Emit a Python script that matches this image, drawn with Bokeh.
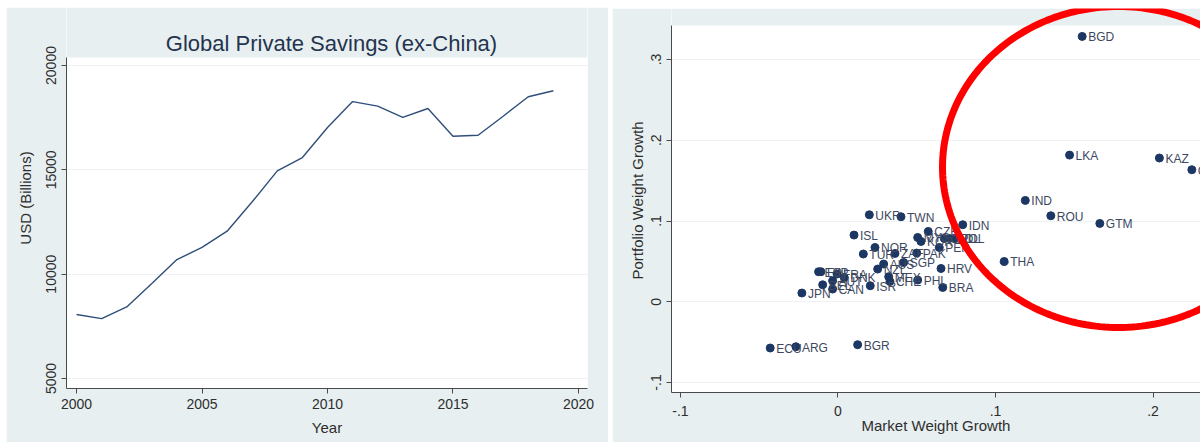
import numpy as np
from bokeh.plotting import figure
from bokeh.models import (Range1d, FixedTicker, PolyAnnotation, BoxAnnotation, Label,
                          CustomJSTickFormatter, ColumnDataSource, GlobalInlineStyleSheet)
from bokeh.layouts import row
from bokeh.core.properties import value
from bokeh.embed import file_html
from bokeh.resources import INLINE

# ---------------- data ----------------
years = list(range(2000, 2020))
savings = [8070, 7870, 8430, 9550, 10700, 11280, 12060, 13470, 14950, 15590,
           17030, 18270, 18050, 17510, 17940, 16610, 16660, 17570, 18500, 18790]

left_x_ticks = [2000, 2005, 2010, 2015, 2020]
left_y_ticks = [5000, 10000, 15000, 20000]

countries = ["BGD", "LKA", "KAZ", "GEO", "IND", "ROU", "GTM", "THA", "IDN", "UKR",
             "TWN", "ISL", "CZE", "MYS", "KOR", "CHL", "COL", "POL", "PER", "NOR",
             "TUR", "ZAF", "PAK", "AUS", "NZL", "SGP", "HRV", "MEX", "CHE", "PHL",
             "BRA", "ISR", "DNK", "FRA", "ESP", "FIN", "CAN", "AUT", "BEL", "JPN",
             "ECU", "ARG", "BGR"]
market_growth = [0.155, 0.147, 0.204, 0.2246, 0.1189, 0.1351, 0.1662, 0.1055, 0.0792, 0.0199,
                 0.0400, 0.0102, 0.0573, 0.0506, 0.0527, 0.0675, 0.0707, 0.0739, 0.0643, 0.0235,
                 0.0161, 0.0362, 0.0500, 0.0290, 0.0252, 0.0417, 0.0654, 0.0322, 0.0330, 0.0506,
                 0.0665, 0.0205, 0.0040, -0.0006, -0.0123, -0.0108, -0.0034, -0.0034, -0.0097, -0.0229,
                 -0.0430, -0.0267, 0.0125]
portfolio_growth = [0.3286, 0.1816, 0.1780, 0.1635, 0.1255, 0.1065, 0.0970, 0.0499, 0.0954, 0.1077,
                    0.1053, 0.0826, 0.0871, 0.0796, 0.0747, 0.0784, 0.0784, 0.0784, 0.0672, 0.0672,
                    0.0591, 0.0598, 0.0603, 0.0467, 0.0405, 0.0487, 0.0412, 0.0310, 0.0251, 0.0269,
                    0.0177, 0.0198, 0.0301, 0.0343, 0.0372, 0.0372, 0.0157, 0.0260, 0.0210, 0.0108,
                    -0.0573, -0.0557, -0.0532]

right_x_ticks = [-0.1, 0, 0.1, 0.2]
right_y_ticks = [-0.1, 0, 0.1, 0.2, 0.3]

# ---------------- styles ----------------
FONT = "Liberation Sans"
PANEL_BG = "#e8eff1"
AXIS_COL = "#4a4a4a"
TEXT_COL = "#2e2e2e"
GRID_COL = "#edf2f3"


def style_axes(p, tick_size="14px", label_size="15px"):
    for ax in (p.xaxis[0], p.yaxis[0]):
        ax.axis_line_color = AXIS_COL
        ax.major_tick_line_color = AXIS_COL
        ax.major_tick_out = 5
        ax.major_tick_in = 0
        ax.minor_tick_line_color = None
        ax.major_label_text_font = FONT
        ax.major_label_text_font_size = tick_size
        ax.major_label_text_color = TEXT_COL
        ax.axis_label_text_font = FONT
        ax.axis_label_text_font_size = label_size
        ax.axis_label_text_font_style = "normal"
        ax.axis_label_text_color = TEXT_COL
        ax.major_label_standoff = 5
        ax.axis_label_standoff = 4
    p.yaxis[0].major_label_orientation = "vertical"
    p.xgrid.visible = False
    p.ygrid.grid_line_color = GRID_COL
    p.ygrid.grid_line_width = 1


# ---------------- left panel ----------------
left_plot_top = 20383
p1 = figure(width=602, height=435, title=None,
            x_range=Range1d(1999.6, 2020.36), y_range=Range1d(4521, 22779),
            output_backend="svg", toolbar_location=None,
            min_border_left=60, min_border_right=21, min_border_top=0, min_border_bottom=54,
            background_fill_color="white", border_fill_color=PANEL_BG,
            outline_line_color=None)
p1.margin = (7, 0, 0, 6)
p1.add_layout(BoxAnnotation(bottom=left_plot_top, fill_color=PANEL_BG, fill_alpha=1,
                            line_color=None, level="underlay"))
p1.line(years, savings, line_color="#2f4f7a", line_width=1.4)
p1.xaxis.ticker = FixedTicker(ticks=left_x_ticks)
p1.yaxis.ticker = FixedTicker(ticks=left_y_ticks)
p1.xaxis.axis_label = "Year"
p1.yaxis.axis_label = "USD (Billions)"
style_axes(p1)
p1.yaxis[0].bounds = (4521, left_plot_top)
p1.yaxis[0].axis_label_standoff = 10
p1.xaxis[0].axis_label_standoff = 7
p1.add_layout(Label(x=325, y=36, x_units="canvas", y_units="canvas",
                    text="Global Private Savings (ex-China)", text_align="center",
                    text_baseline="middle", text_font=FONT, text_font_size="22px",
                    text_color="#24344f"))

# ---------------- right panel ----------------
plot_top = 0.3421
p2 = figure(width=588, height=438, title=None,
            x_range=Range1d(-0.10565, 0.2301), y_range=Range1d(-0.1124, 0.3632),
            output_backend="svg", toolbar_location=None,
            min_border_left=59, min_border_right=0, min_border_top=0, min_border_bottom=54,
            background_fill_color="white", border_fill_color=PANEL_BG,
            outline_line_color=None)
p2.margin = (8, 0, 0, 4)
# panel-coloured strip above the plot region (lets the highlight ellipse reach above it)
p2.add_layout(BoxAnnotation(bottom=plot_top, fill_color=PANEL_BG, fill_alpha=1,
                            line_color=None, level="underlay"))
src = ColumnDataSource(dict(x=market_growth, y=portfolio_growth, name=countries))
p2.scatter("x", "y", source=src, size=8, fill_color="#1c3763", line_color="#1c3763")
p2.text("x", "y", text="name", source=src, x_offset=6, y_offset=1,
        text_baseline="middle", text_align="left",
        text_font=value(FONT), text_font_size="12px", text_color="#3d4860")
fmt = CustomJSTickFormatter(code="""
    if (Math.abs(tick) < 1e-9) { return "0"; }
    var s = Math.abs(tick).toFixed(1).replace(/^0/, "");
    return (tick < 0 ? "-" : "") + s;
""")
p2.xaxis.ticker = FixedTicker(ticks=right_x_ticks)
p2.yaxis.ticker = FixedTicker(ticks=right_y_ticks)
p2.xaxis.formatter = fmt
p2.yaxis.formatter = fmt
p2.xaxis.axis_label = "Market Weight Growth"
p2.yaxis.axis_label = "Portfolio Weight Growth"
style_axes(p2, tick_size="14px", label_size="15px")
p2.yaxis[0].bounds = (-0.1124, plot_top)
p2.yaxis[0].axis_label_standoff = 3
p2.xaxis[0].major_label_standoff = 8
p2.xaxis[0].axis_label_standoff = -2

# red highlight ellipse (annotation, canvas pixels of the right figure)
t = np.linspace(0, 2 * np.pi, 241)
cx, cy, rx, ry = 506, 158.5, 176, 160.5
p2.add_layout(PolyAnnotation(xs=list(cx + rx * np.cos(t)), ys=list(cy + ry * np.sin(t)),
                             xs_units="canvas", ys_units="canvas",
                             fill_color=None, line_color="#ff0000", line_alpha=1.0,
                             line_width=7))

layout = row(p1, p2, spacing=0)
layout.margin = (0, 0, 0, 0)
layout.stylesheets = [GlobalInlineStyleSheet(css="html, body { overflow: hidden !important; margin: 0; }")]
open("out.html", "w").write(file_html(layout, INLINE))
